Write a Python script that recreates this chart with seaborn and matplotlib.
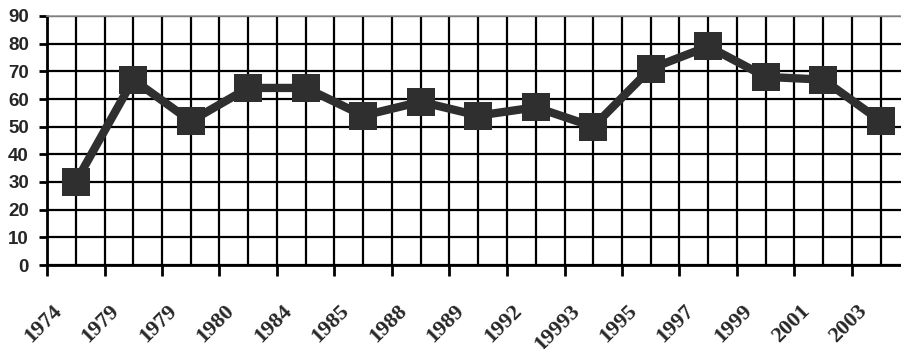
import matplotlib
matplotlib.use("Agg")
import matplotlib.pyplot as plt
from matplotlib.ticker import MultipleLocator, NullFormatter
from matplotlib.transforms import ScaledTranslation
import seaborn as sns
import pandas as pd
import numpy as np

years = ["1974", "1979", "1979", "1980", "1984", "1985", "1988", "1989",
         "1992", "19993", "1995", "1997", "1999", "2001", "2003"]
values = [30, 67, 52, 64, 64, 54, 59, 54, 57, 50, 71, 79, 68, 67, 52]

df = pd.DataFrame({"pos": np.arange(len(years)), "value": values})

sns.set_theme(style="white")
plt.rcParams["font.family"] = ["DejaVu Sans"]

fig = plt.figure(figsize=(9.01, 3.49), dpi=100)
ax = fig.add_axes([47 / 901, 84 / 349, 862.5 / 901, 249 / 349])

mark_color = "#2f2f2f"
sns.lineplot(data=df, x="pos", y="value", ax=ax, color=mark_color,
             linewidth=6, marker="s", markersize=20, markeredgewidth=0,
             zorder=5)

ax.set_xlim(-0.5, len(years) - 0.5)
ax.set_ylim(0, 90)

# category boundaries carry the outward tick marks, centres carry the labels
ax.xaxis.set_major_locator(MultipleLocator(1, offset=0.5))
ax.xaxis.set_major_formatter(NullFormatter())
ax.set_xticks(df["pos"].tolist(), minor=True)
ax.tick_params(axis="x", which="major", direction="out", length=8,
               width=2, color="black", bottom=True)
ax.tick_params(axis="x", which="minor", length=0, pad=31)
ax.set_xticklabels(years, minor=True, rotation=45, ha="right", va="center",
                   rotation_mode="anchor",
                   fontfamily="Liberation Serif", fontweight="bold",
                   fontsize=16)

ax.yaxis.set_major_locator(MultipleLocator(10))
ax.tick_params(axis="y", which="major", direction="out", length=6, width=2,
               color="black", left=True, pad=7)
for lab in ax.get_yticklabels():
    lab.set_fontfamily("Liberation Sans")
    lab.set_fontweight("bold")
    lab.set_fontsize(13.5)

# nudge the slanted year labels left of their category centres
shift = ScaledTranslation(-12 / 72, 0, fig.dpi_scale_trans)
for lab in ax.get_xticklabels(minor=True):
    lab.set_transform(lab.get_transform() + shift)

ax.grid(True, which="both", axis="x", color="black", linewidth=1.6)
ax.grid(True, which="major", axis="y", color="black", linewidth=1.6)
ax.set_axisbelow(True)

for side in ["left", "bottom"]:
    ax.spines[side].set_color("black")
    ax.spines[side].set_linewidth(2)
ax.spines["top"].set_color("#999999")
ax.spines["top"].set_linewidth(1.2)
ax.spines["top"].set_linestyle((0, (1, 1)))
ax.spines["right"].set_visible(False)

ax.set_xlabel("")
ax.set_ylabel("")

fig.savefig("out.png", dpi=100, facecolor="white")
